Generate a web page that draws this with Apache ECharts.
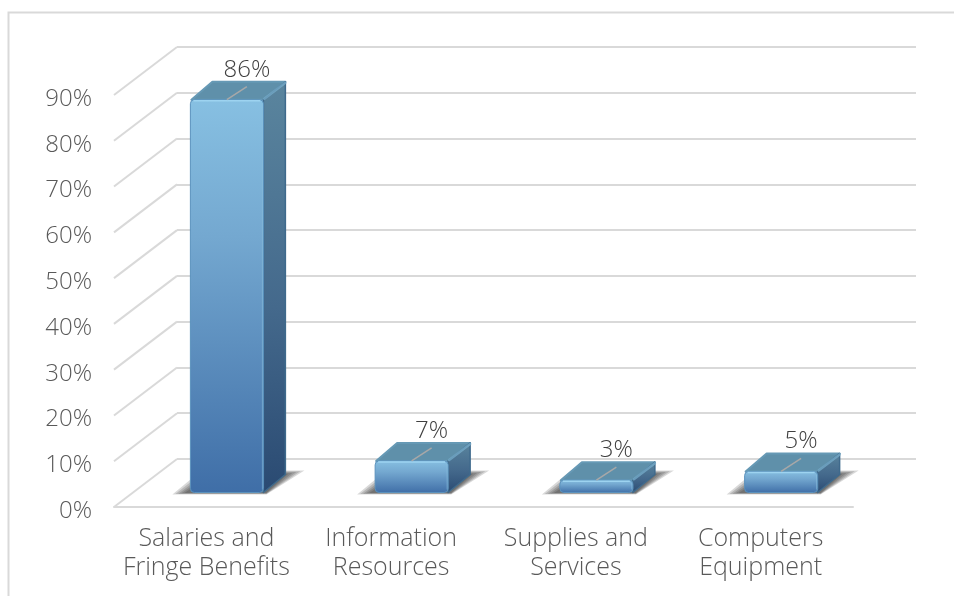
<!DOCTYPE html>
<html><head><meta charset="utf-8">
<style>html,body{margin:0;padding:0;background:#fff}#c{width:954px;height:596px}</style>
<script src="https://cdn.jsdelivr.net/npm/echarts@6/dist/echarts.min.js"></script>
</head><body><div id="c"></div>
<script>
const categories = ['Salaries and\nFringe Benefits','Information\nResources','Supplies and\nServices','Computers\nEquipment'];
const shares = [85.8,6.9,2.7,4.6];
const ticks = [0,10,20,30,40,50,60,70,80,90];
const FONT = 'Open Sans';
const WEIGHT = 300;
const chart = echarts.init(document.getElementById('c'),null,{renderer:'canvas'});
const wallDx=63, wallDy=-48, barOffX=20.5, barOffY=-14.5, barHalf=36.5, depX=22, depY=-18;
function lin(x0,y0,x1,y1,stops){return new echarts.graphic.LinearGradient(x0,y0,x1,y1,stops.map(c=>({offset:c[0],color:c[1]})));}
function renderBar(params,api){
  const idx=api.value(0), v=api.value(1);
  const p=api.coord([idx,v]), b=api.coord([idx,0]);
  const cx=p[0]+barOffX, yt=p[1]+barOffY, yb=b[1]+barOffY;
  const xl=cx-barHalf, xr=cx+barHalf;
  const topPoly=[[xl+1,yt],[xl+depX,yt+depY],[xr+depX,yt+depY],[xr,yt]];
  const sidePoly=[[xr,yt],[xr+depX,yt+depY],[xr+depX,yb+depY],[xr,yb]];
  const shadowLayers=[0,1,2,3,4].map(k=>({
    type:'polygon',
    shape:{points:[[xl-18+k*3,yb+2-k*0.4],[xr+3,yb+2-k*0.4],[xr+depX+19-k*4,yb-22+k*0.8],[xl+11+k*3,yb-22+k*0.8]]},
    style:{fill:'rgba(25,25,25,0.17)'}
  }));
  return {type:'group',silent:true,children:shadowLayers.concat([
    {type:'polygon',shape:{points:topPoly},style:{fill:'#5f90aa',stroke:'#6699b5',lineWidth:2,lineJoin:'round'}},
    {type:'polygon',shape:{points:sidePoly},style:{fill:lin(0,0,0,1,[[0,'#5a859e'],[0.55,'#44698c'],[1,'#2a4a72']]),stroke:'#3f6a8c',lineWidth:1.5,lineJoin:'round'}},
    {type:'line',shape:{x1:xr+1,y1:yt-1,x2:xr+depX,y2:yt+depY+1},style:{stroke:'#78aecb',lineWidth:2.5,opacity:0.75,lineCap:'round'}},
    {type:'rect',shape:{x:xl,y:yt,width:xr-xl,height:yb-yt,r:4},style:{fill:lin(0,0,0,1,[[0,'#87c0e2'],[0.35,'#74a8d0'],[1,'#3f6ea7']]),stroke:'#5b92bd',lineWidth:1}},
    {type:'line',shape:{x1:xl+3,y1:yt+1,x2:xr-3,y2:yt+1},style:{stroke:'#9dd3f0',lineWidth:1.5}},
    {type:'line',shape:{x1:xr-1,y1:yt+3,x2:xr-1,y2:yb-3},style:{stroke:'#8fc4e2',lineWidth:1,opacity:0.55}},
    {type:'line',shape:{x1:cx,y1:yt,x2:cx+20,y2:yt-13},style:{stroke:'#a8a8a8',lineWidth:1.5}},
    {type:'text',x:cx+20,y:yt-30,style:{text:Math.round(v)+'%',font:WEIGHT+' 24px "'+FONT+'"',fill:'#404040',align:'center',verticalAlign:'middle'}}
  ])};
}
function renderDiag(params,api){
  const t=api.value(0);
  const p=api.coord([0,t]);
  const x=114;
  return {type:'line',silent:true,shape:{x1:x,y1:p[1],x2:x+wallDx,y2:p[1]+wallDy},style:{stroke:'#d9d9d9',lineWidth:2}};
}
chart.setOption({
  animation:false,
  backgroundColor:'#fff',
  graphic:[{type:'polyline',z:-1,shape:{points:[[8.5,600],[8.5,12.5],[960,12.5]]},style:{fill:'none',stroke:'#d9d9d9',lineWidth:2}}],
  grid:[
    {left:114,right:101,top:95,bottom:89},
    {left:177,right:38,top:47,bottom:137},
    {left:114,right:101,top:99,bottom:85}
  ],
  xAxis:[
    {type:'category',gridIndex:0,data:categories,axisTick:{show:false},
      axisLine:{lineStyle:{color:'#d9d9d9',width:2}},
      axisLabel:{color:'#595959',fontFamily:FONT,fontWeight:WEIGHT,fontSize:25,lineHeight:29,margin:17,interval:0}},
    {type:'category',gridIndex:1,data:categories,show:false},
    {type:'category',gridIndex:2,data:categories,show:false}
  ],
  yAxis:[
    {type:'value',gridIndex:0,min:0,max:90,interval:10,axisLine:{show:false},axisTick:{show:false},splitLine:{show:false},axisLabel:{show:false}},
    {type:'value',gridIndex:1,min:0,max:90,interval:10,axisLine:{show:false},axisTick:{show:false},axisLabel:{show:false},
      splitLine:{show:true,lineStyle:{color:'#d9d9d9',width:2}}},
    {type:'value',gridIndex:2,min:0,max:90,interval:10,axisLine:{show:false},axisTick:{show:false},splitLine:{show:false},
      axisLabel:{color:'#595959',fontFamily:FONT,fontWeight:WEIGHT,fontSize:24,margin:22,formatter:'{value}%'}}
  ],
  series:[
    {type:'custom',name:'grid',xAxisIndex:0,yAxisIndex:0,data:ticks.map(t=>[t]),renderItem:renderDiag,encode:{y:0},z:1},
    {type:'custom',name:'Share',xAxisIndex:0,yAxisIndex:0,data:shares.map((v,i)=>[i,v]),renderItem:renderBar,encode:{x:0,y:1},z:3}
  ]
});
</script></body></html>
